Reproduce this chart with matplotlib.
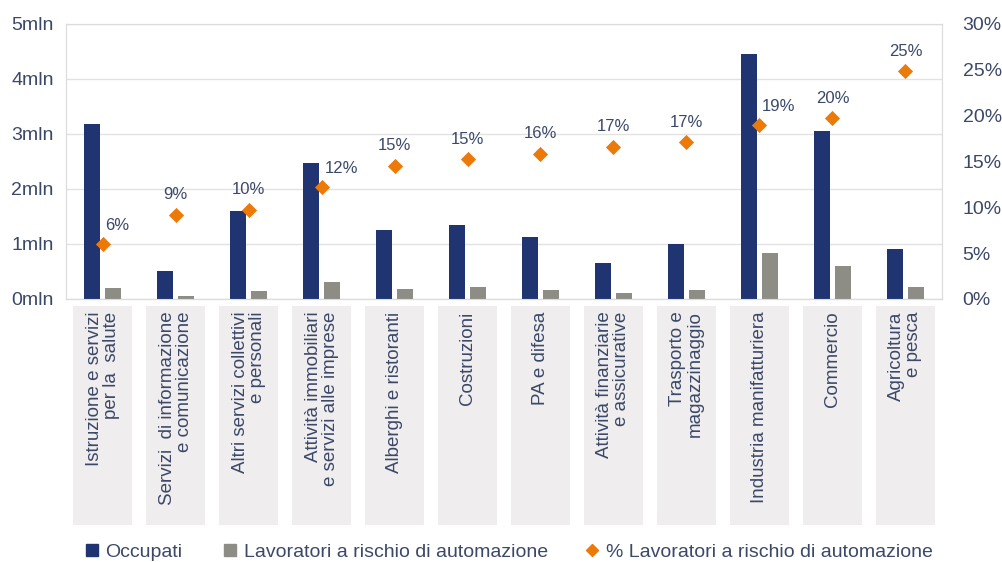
import matplotlib.pyplot as plt
from matplotlib.patches import Rectangle
from matplotlib.lines import Line2D

plt.rcParams['font.family'] = ['Liberation Sans', 'DejaVu Sans']

# data (millions of workers, % at risk)
settori = [
    "Istruzione e servizi\nper la  salute",
    "Servizi  di informazione\ne comunicazione",
    "Altri servizi collettivi\ne personali",
    "Attività immobiliari\ne servizi alle imprese",
    "Alberghi e ristoranti",
    "Costruzioni",
    "PA e difesa",
    "Attività finanziarie\ne assicurative",
    "Trasporto e\nmagazzinaggio",
    "Industria manifatturiera",
    "Commercio",
    "Agricoltura\ne pesca",
]
occupati = [3.18, 0.51, 1.60, 2.47, 1.25, 1.35, 1.13, 0.66, 1.00, 4.44, 3.05, 0.91]
a_rischio = [0.20, 0.06, 0.15, 0.30, 0.18, 0.21, 0.17, 0.10, 0.16, 0.84, 0.60, 0.22]
pct_rischio = [6.0, 9.2, 9.7, 12.2, 14.5, 15.2, 15.8, 16.6, 17.1, 18.9, 19.7, 24.8]
pct_labels = ["6%", "9%", "10%", "12%", "15%", "15%", "16%", "17%", "17%", "19%", "20%", "25%"]

navy = "#1f3470"
grigio = "#8d8c85"
arancio = "#ec7a0a"
testo = "#3b4868"

fig = plt.figure(figsize=(10.02, 5.62), dpi=100)
ax = fig.add_axes([0.066, 0.468, 0.874, 0.49])
ax2 = ax.twinx()

x = list(range(len(settori)))
w = 0.22
ax.bar([i - 0.145 for i in x], occupati, width=w, color=navy, zorder=3)
ax.bar([i + 0.145 for i in x], a_rischio, width=w, color=grigio, zorder=3)
ax2.scatter(x, pct_rischio, marker="D", s=60, color=arancio, zorder=4, linewidths=0)

# label placement: some labels sit to the upper right of the marker
shift_right = [0, 3, 9]
for i, (p, lab) in enumerate(zip(pct_rischio, pct_labels)):
    if i in shift_right:
        ax2.annotate(lab, (i, p), xytext=(2, 8), textcoords="offset points",
                     ha="left", va="bottom", fontsize=12, color=testo)
    else:
        ax2.annotate(lab, (i, p), xytext=(0, 9), textcoords="offset points",
                     ha="center", va="bottom", fontsize=12, color=testo)

ax.set_xlim(-0.5, len(settori) - 0.5)
ax.set_ylim(0, 5)
ax2.set_ylim(0, 30)
ax.set_yticks(range(6))
ax.set_yticklabels([f"{v}mln" for v in range(6)])
ax2.set_yticks(range(0, 31, 5))
ax2.set_yticklabels([f"{v}%" for v in range(0, 31, 5)])
ax.set_xticks([])
ax.grid(axis="y", color="#e2e2e2", linewidth=1, zorder=0)

for a in (ax, ax2):
    a.tick_params(axis="y", length=0, labelsize=14, colors=testo)
    for s in a.spines.values():
        s.set_color("#dcdcdc")
ax.spines["bottom"].set_color("#c8c8c8")
ax.tick_params(axis="y", pad=9)
ax2.tick_params(axis="y", pad=15)

# category boxes below the plot
tr = ax.get_xaxis_transform()
for i, name in enumerate(settori):
    ax.add_patch(Rectangle((i - 0.4, -0.82), 0.8, 0.795, transform=tr,
                           facecolor="#efeded", edgecolor="none", clip_on=False))
    ax.text(i, -0.045, name, transform=tr, rotation=90, ha="center", va="top",
            multialignment="right", fontsize=13.5, color=testo, linespacing=1.0)

# legend
items = [
    (Line2D([], [], marker="s", color=navy, linestyle="none", markersize=9), "Occupati", 0.085),
    (Line2D([], [], marker="s", color=grigio, linestyle="none", markersize=9),
     "Lavoratori a rischio di automazione", 0.223),
    (Line2D([], [], marker="D", color=arancio, linestyle="none", markersize=6),
     "% Lavoratori a rischio di automazione", 0.584),
]
for h, lab, xpos in items:
    fig.legend([h], [lab], loc="center left", bbox_to_anchor=(xpos, 0.018), frameon=False,
               handlelength=0.7, handletextpad=0.35, fontsize=14, labelcolor=testo,
               borderaxespad=0, borderpad=0)

fig.savefig("out.png", dpi=100)
